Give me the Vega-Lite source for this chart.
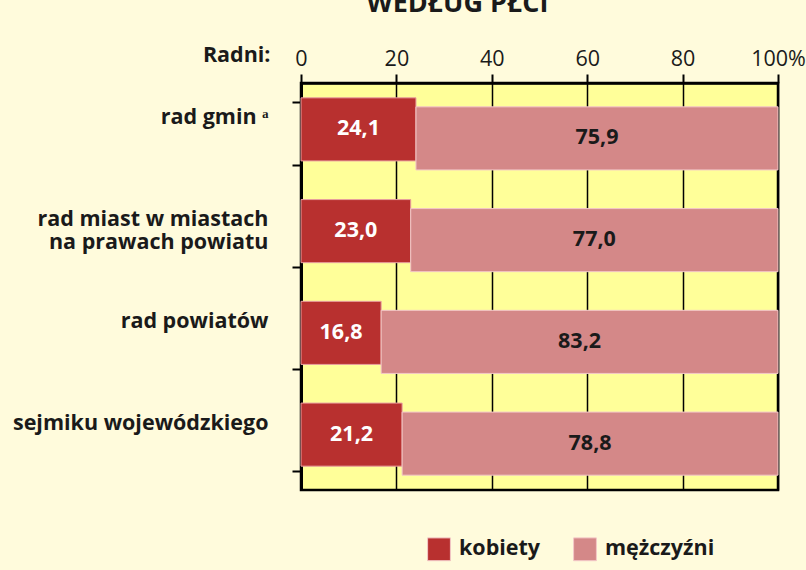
{
  "$schema": "https://vega.github.io/schema/vega-lite/v6.json",
  "autosize": "none",
  "width": 477,
  "height": 407,
  "padding": {"left": 301, "top": 83, "right": 28, "bottom": 80},
  "background": "#FFFBDC",
  "title": {
    "text": "WEDŁUG PŁCI",
    "anchor": "middle",
    "frame": "group",
    "fontSize": 27,
    "font": "Open Sans",
    "fontWeight": "bold",
    "color": "#1a1a1a",
    "dx": -82,
    "offset": 26
  },
  "config": {
    "locale": {"number": {"decimal": ",", "thousands": " ", "grouping": [3], "currency": ["", " zł"]}},
    "view": {"fill": "#FFFF99", "stroke": "#000000", "strokeWidth": 2.5},
    "font": "Open Sans"
  },
  "data": {
    "values": [
      {"cat": "rad gmin ᵃ", "sex": "kobiety", "value": 24.1},
      {"cat": "rad gmin ᵃ", "sex": "mężczyźni", "value": 75.9},
      {"cat": "rad miast w miastach\nna prawach powiatu", "sex": "kobiety", "value": 23.0},
      {"cat": "rad miast w miastach\nna prawach powiatu", "sex": "mężczyźni", "value": 77.0},
      {"cat": "rad powiatów", "sex": "kobiety", "value": 16.8},
      {"cat": "rad powiatów", "sex": "mężczyźni", "value": 83.2},
      {"cat": "sejmiku wojewódzkiego", "sex": "kobiety", "value": 21.2},
      {"cat": "sejmiku wojewódzkiego", "sex": "mężczyźni", "value": 78.8}
    ]
  },
  "transform": [
    {"stack": "value", "groupby": ["cat"], "sort": [{"field": "sex", "order": "ascending"}], "as": ["v0", "v1"]},
    {"calculate": "(datum.v0 + datum.v1) / 2", "as": "mid"}
  ],
  "encoding": {
    "y": {
      "field": "cat",
      "type": "nominal",
      "sort": null,
      "scale": {"paddingInner": 0.38, "paddingOuter": 0.19},
      "axis": {
        "title": "Radni:",
        "titleAngle": 0,
        "titleX": -31,
        "titleY": -28,
        "titleAlign": "right",
        "titleBaseline": "middle",
        "titleFontSize": 21.5,
        "titleFontWeight": "bold",
        "titleColor": "#1a1a1a",
        "labelExpr": "split(datum.label, '\\n')",
        "labelFontSize": 21.5,
        "labelFontWeight": "bold",
        "labelColor": "#1a1a1a",
        "labelLineHeight": 23,
        "labelOffset": -16,
        "labelPadding": 24,
        "labelLimit": 400,
        "tickBand": "extent",
        "tickSize": 9,
        "tickColor": "#000000",
        "tickWidth": 2,
        "domainColor": "#000000",
        "domainWidth": 3,
        "grid": false
      }
    }
  },
  "layer": [
    {
      "transform": [{"filter": "datum.sex == 'kobiety'"}],
      "mark": {"type": "bar", "yOffset": -4.5, "stroke": "#E9A0A0", "strokeWidth": 1},
      "encoding": {
        "x": {
          "field": "v0",
          "type": "quantitative",
          "scale": {"domain": [0, 100], "nice": false},
          "axis": {
            "orient": "top",
            "title": null,
            "values": [0, 20, 40, 60, 80, 100],
            "labelExpr": "datum.value == 100 ? '100%' : datum.label",
            "labelFontSize": 21.5,
            "labelColor": "#1a1a1a",
            "labelPadding": 4,
            "labelFlush": false,
            "tickSize": 9,
            "tickColor": "#000000",
            "tickWidth": 2,
            "domainColor": "#000000",
            "domainWidth": 2.5,
            "grid": true,
            "gridColor": "#000000",
            "gridWidth": 1.5,
            "gridOpacity": 1
          }
        },
        "x2": {"field": "v1"},
        "color": {
          "field": "sex",
          "type": "nominal",
          "scale": {"domain": ["kobiety", "mężczyźni"], "range": ["#B8302F", "#D48888"]},
          "legend": {
            "title": null,
            "orient": "none",
            "direction": "horizontal",
            "legendX": 126,
            "legendY": 454,
            "symbolType": "square",
            "symbolSize": 520,
            "symbolStrokeColor": "#7a2020",
            "symbolStrokeWidth": 1,
            "labelFontSize": 21.5,
            "labelFontWeight": "bold",
            "labelColor": "#1a1a1a",
            "labelOffset": 8,
            "columnPadding": 30
          }
        }
      }
    },
    {
      "transform": [{"filter": "datum.sex == 'mężczyźni'"}],
      "mark": {"type": "bar", "yOffset": 4.5, "stroke": "#F3C8C8", "strokeWidth": 1},
      "encoding": {
        "x": {"field": "v0", "type": "quantitative"},
        "x2": {"field": "v1"},
        "color": {"field": "sex", "type": "nominal"}
      }
    },
    {
      "transform": [{"filter": "datum.sex == 'kobiety'"}],
      "mark": {"type": "text", "yOffset": -4.5, "fontSize": 21.5, "fontWeight": "bold", "color": "#ffffff"},
      "encoding": {
        "x": {"field": "mid", "type": "quantitative"},
        "text": {"field": "value", "type": "quantitative", "format": ".1f"}
      }
    },
    {
      "transform": [{"filter": "datum.sex == 'mężczyźni'"}],
      "mark": {"type": "text", "yOffset": 4.5, "fontSize": 21.5, "fontWeight": "bold", "color": "#1a1a1a"},
      "encoding": {
        "x": {"field": "mid", "type": "quantitative"},
        "text": {"field": "value", "type": "quantitative", "format": ".1f"}
      }
    }
  ]
}
